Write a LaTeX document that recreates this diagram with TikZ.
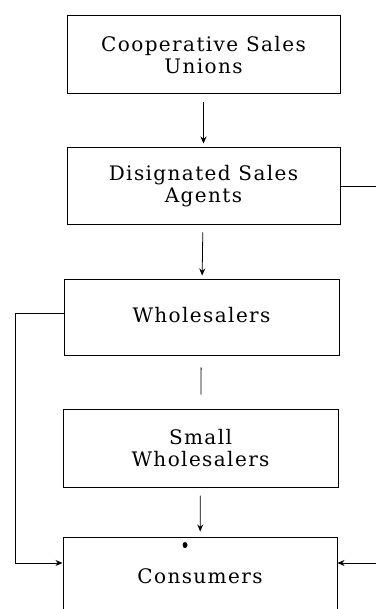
\documentclass[tikz,border=0pt]{standalone}
\usepackage{fontspec}
\setmainfont{DejaVu Serif}[LetterSpace=7]
\usetikzlibrary{arrows.meta}
\begin{document}
\begin{tikzpicture}[x=1pt,y=-1pt,
  box/.style={draw, line width=1pt, minimum width=273pt, align=center, inner sep=0pt,
    font=\fontsize{20}{22}\selectfont},
  arr/.style={line width=0.8pt, -{Stealth[length=7pt,width=6pt]}},
  plain/.style={line width=0.8pt}]
\useasboundingbox (0,0) rectangle (376,609);
\clip (0,0) rectangle (376,609);
\node[box, minimum height=78pt] (u) at (203.5,55) {\raisebox{2pt}{\parbox{250pt}{\centering Cooperative Sales\\Unions}}};
\node[box, minimum height=77pt] (a) at (203.5,186.5) {\raisebox{2pt}{\parbox{250pt}{\centering Disignated Sales\\Agents}}};
\node[box, minimum width=275pt, minimum height=76pt] (w) at (201.5,317) {\raisebox{4pt}{Wholesalers}};
\node[box, minimum width=275pt, minimum height=78pt] (sw) at (200.5,448) {\raisebox{2pt}{\parbox{250pt}{\centering Small\\Wholesalers}}};
\node[box, minimum width=274pt, minimum height=78pt] (c) at (200,576) {Consumers};
\coordinate (lc) at (15,0);
\coordinate (r2) at (376,187);
\coordinate (rc) at (376,563);
\draw[arr, shorten <=8pt, shorten >=4pt] (u) -- (a);
\draw[arr, shorten <=7pt, shorten >=3pt] (a) -- (w);
\draw[plain, shorten <=12pt, shorten >=14pt] (w) -- (sw);
\draw[arr, shorten <=8pt, shorten >=5pt] (sw) -- (c);
\draw[arr] ([yshift=4pt]w.west) -- ([yshift=4pt]w.west -| lc) -- ([yshift=13pt]c.west -| lc) -- ([yshift=13pt]c.west);
\draw[plain] (a.east) -- (a.east -| r2);
\draw[arr] (rc) -- (rc -| c.east);
\fill (185,545) ellipse (2.5pt and 3pt);
\end{tikzpicture}
\end{document}
